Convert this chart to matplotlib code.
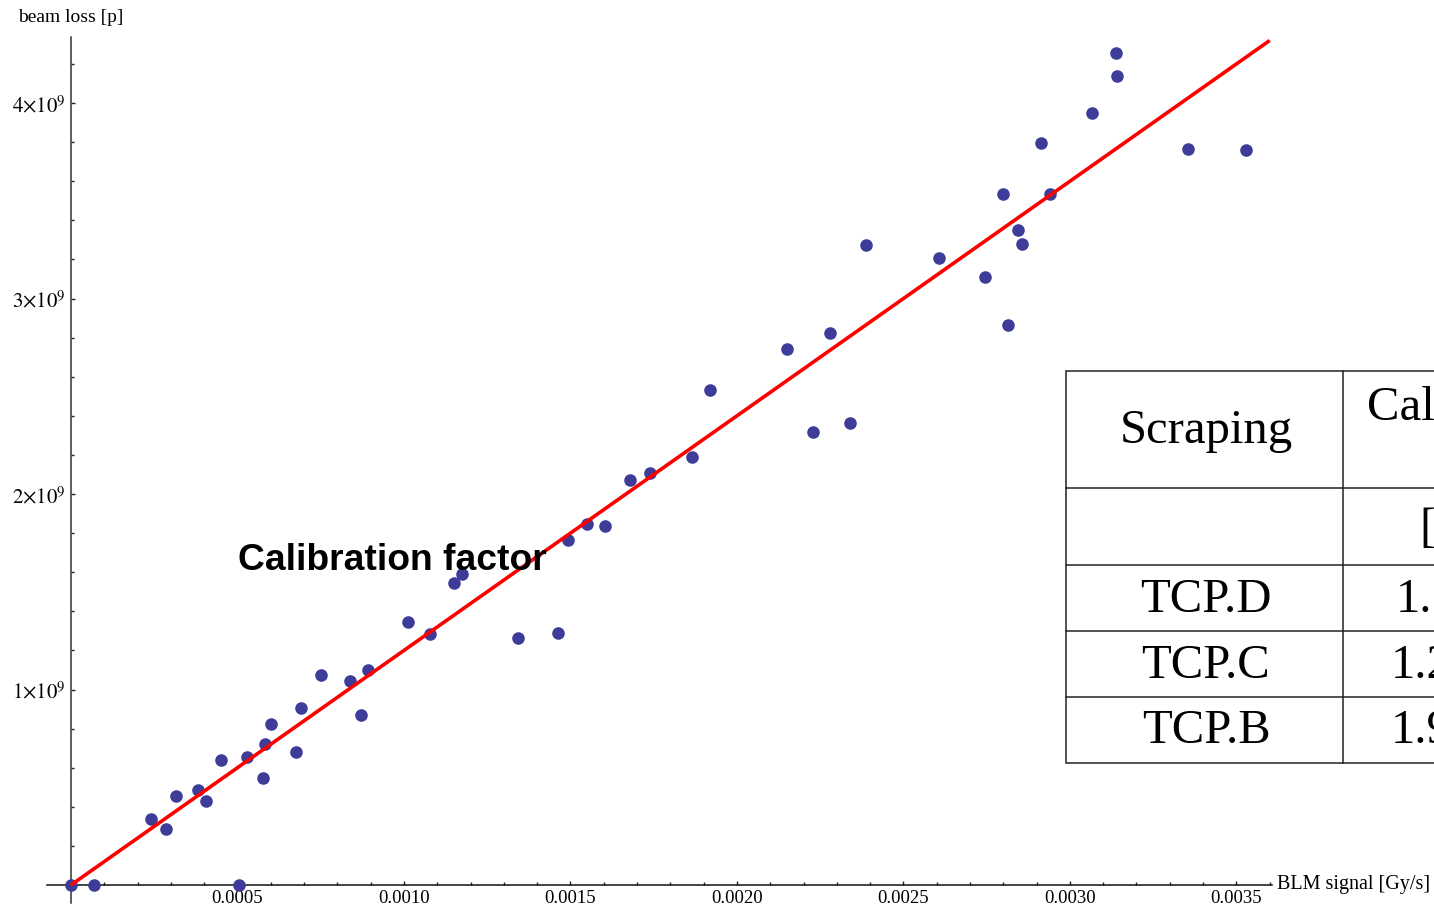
import matplotlib
matplotlib.use("Agg")
import matplotlib.pyplot as plt
from matplotlib.lines import Line2D
from matplotlib.patches import Rectangle
from matplotlib.ticker import FixedLocator, FixedFormatter, MultipleLocator

# measured points: BLM signal [Gy/s] vs beam loss [1e9 p]
blm_signal = [0.0, 0.000069, 0.000505, 0.00024, 0.000285, 0.000315, 0.000381,
              0.000405, 0.00045, 0.000529, 0.000577, 0.000583, 0.0006, 0.000676,
              0.00069, 0.00075, 0.000838, 0.000871, 0.000892, 0.001012, 0.001078,
              0.00115, 0.001174, 0.001342, 0.001462, 0.001492, 0.00155, 0.001604,
              0.001679, 0.001739, 0.001865, 0.001919, 0.00215, 0.002228, 0.002279,
              0.002339, 0.002387, 0.002607, 0.002745, 0.002799, 0.002814, 0.002844,
              0.002856, 0.002913, 0.00294, 0.003066, 0.003138, 0.003141, 0.003354,
              0.003529]
beam_loss = [0.0, 0.0, 0.0, 0.338, 0.286, 0.455, 0.486,
             0.43, 0.639, 0.655, 0.547, 0.721, 0.824, 0.68,
             0.905, 1.074, 1.043, 0.87, 1.1, 1.345, 1.284,
             1.545, 1.591, 1.263, 1.289, 1.765, 1.847, 1.836,
             2.072, 2.107, 2.189, 2.532, 2.742, 2.317, 2.824,
             2.363, 3.274, 3.207, 3.11, 3.535, 2.864, 3.35,
             3.279, 3.795, 3.535, 3.949, 4.256, 4.138, 3.765,
             3.76]

# linear fit (calibration factor, p per Gy/s)
fit_slope = 1.2e12
fit_x = [0.0, 0.0036]

x_ticks = [0.0005, 0.0010, 0.0015, 0.0020, 0.0025, 0.0030, 0.0035]
x_labels = ["0.0005", "0.0010", "0.0015", "0.0020", "0.0025", "0.0030", "0.0035"]
y_ticks = [1e9, 2e9, 3e9, 4e9]
y_labels = [r"$1{\times}10^9$", r"$2{\times}10^9$", r"$3{\times}10^9$", r"$4{\times}10^9$"]

# table on the right (cut off at the slide edge)
tab_header = ["Scraping", "Calibration"]
tab_units = ["", "[p/(Gy/s)]"]
tab_names = ["TCP.D", "TCP.C", "TCP.B"]
tab_factors = ["1.1\u00d710\u00b9\u00b2", "1.25\u00d710\u00b9\u00b2", "1.95\u00d710\u00b9\u00b2"]

W, H = 1434, 910
plt.rcParams["mathtext.fontset"] = "stix"
serif = "Liberation Serif"


def px(x, y):
    """pixel position -> figure fraction"""
    return x / W, 1 - y / H


fig = plt.figure(figsize=(W / 100, H / 100), dpi=100)
ax = fig.add_axes([47 / W, 1 - 903 / H, (1272 - 47) / W, (903 - 37) / H])

y_vals = [v * 1e9 for v in beam_loss]
ax.scatter(blm_signal, y_vals, s=82, color=(0.24, 0.24, 0.6), linewidths=0,
           zorder=3, clip_on=False)
ax.plot(fit_x, [fit_slope * x for x in fit_x], color="red", lw=2.6, zorder=4,
        solid_capstyle="butt", clip_on=False)

ax.set_xlim(-0.000072, 0.003607)
ax.set_ylim(-0.092e9, 4.338e9)

for side in ["top", "right"]:
    ax.spines[side].set_visible(False)
ax.spines["left"].set_position(("data", 0))
ax.spines["bottom"].set_position(("data", 0))
ax.spines["left"].set_color("#333333")
ax.spines["bottom"].set_color("#111111")
ax.spines["left"].set_linewidth(1.1)
ax.spines["bottom"].set_linewidth(1.1)

ax.xaxis.set_major_locator(FixedLocator(x_ticks))
ax.xaxis.set_major_formatter(FixedFormatter(x_labels))
ax.xaxis.set_minor_locator(MultipleLocator(0.0001))
ax.yaxis.set_major_locator(FixedLocator(y_ticks))
ax.yaxis.set_major_formatter(FixedFormatter(y_labels))
ax.yaxis.set_minor_locator(MultipleLocator(0.2e9))

ax.tick_params(axis="both", which="both", direction="in", color="#222222", width=1.0)
ax.tick_params(axis="both", which="major", length=3.2)
ax.tick_params(axis="both", which="minor", length=2.0)
ax.tick_params(axis="x", which="major", pad=3.5, labelsize=13.5)
ax.tick_params(axis="y", which="major", pad=3.5, labelsize=15)
for lab in ax.get_xticklabels():
    lab.set_family(serif)

fig.text(*px(18, 18), "beam loss [p]", family=serif, fontsize=14, ha="left", va="center")
fig.text(*px(1277, 884), "BLM signal [Gy/s]", family=serif, fontsize=14.5, ha="left", va="center")

fig.text(*px(238, 560), "Calibration factor", family="Liberation Sans", weight="bold",
         fontsize=26.8, ha="left", va="center", zorder=5)

# table
fig.add_artist(Rectangle(px(1066, 763), (1600 - 1066) / W, (763 - 371) / H,
                         transform=fig.transFigure, facecolor="white",
                         edgecolor="#222222", lw=1.1, zorder=6))
for y in [488, 565, 631, 697]:
    x0, y0 = px(1066, y)
    x1, _ = px(1600, y)
    fig.add_artist(Line2D([x0, x1], [y0, y0], transform=fig.transFigure,
                          color="#222222", lw=1.1, zorder=7))
x0, y0 = px(1343, 371)
_, y1 = px(1343, 763)
fig.add_artist(Line2D([x0, x0], [y0, y1], transform=fig.transFigure,
                      color="#222222", lw=1.1, zorder=7))

tfs = 35
fig.text(*px(1206, 443), tab_header[0], family=serif, fontsize=tfs, ha="center",
         va="baseline", zorder=8)
fig.text(*px(1367, 420), tab_header[1], family=serif, fontsize=tfs, ha="left",
         va="baseline", zorder=8)
fig.text(*px(1419, 542), tab_units[1], family=serif, fontsize=tfs, ha="left",
         va="baseline", zorder=8)
row_base = [612, 678, 743]
row_left = [1396, 1391, 1391]
for name, fac, yb, xl in zip(tab_names, tab_factors, row_base, row_left):
    fig.text(*px(1206, yb), name, family=serif, fontsize=tfs, ha="center",
             va="baseline", zorder=8)
    fig.text(*px(xl, yb), fac, family=serif, fontsize=tfs, ha="left",
             va="baseline", zorder=8)

fig.savefig("out.png", dpi=100)
